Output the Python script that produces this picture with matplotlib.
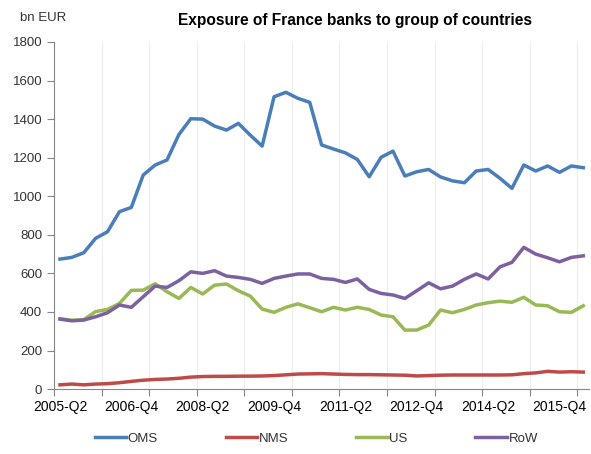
import numpy as np
import matplotlib
matplotlib.use('Agg')
import matplotlib.pyplot as plt

plt.rcParams['font.family'] = ['Liberation Sans', 'DejaVu Sans']

# quarters 2005-Q2 ... 2016-Q2
quarters = []
for y in range(2005, 2017):
    for q in range(1, 5):
        if (y, q) >= (2005, 2) and (y, q) <= (2016, 2):
            quarters.append('%d-Q%d' % (y, q))

oms = [674, 683, 707, 782, 816, 920, 942, 1110, 1162, 1188,
       1320, 1402, 1400, 1364, 1343, 1378, 1317, 1260, 1516, 1539,
       1508, 1487, 1266, 1245, 1225, 1191, 1101, 1202, 1234, 1105,
       1127, 1139, 1100, 1080, 1070, 1131, 1139, 1093, 1041, 1162,
       1131, 1157, 1124, 1157, 1148]
nms = [22, 26, 22, 26, 28, 33, 40, 46, 50, 52,
       56, 62, 65, 66, 66, 67, 67, 68, 70, 74,
       78, 79, 80, 78, 76, 75, 75, 74, 73, 72,
       68, 70, 72, 73, 73, 73, 73, 73, 74, 80,
       84, 92, 88, 90, 88]
us = [365, 357, 360, 402, 413, 444, 512, 513, 546, 505,
      470, 527, 493, 539, 545, 510, 482, 415, 398, 424,
      442, 422, 401, 424, 410, 424, 413, 384, 375, 306,
      306, 332, 410, 396, 413, 436, 448, 456, 450, 476,
      436, 432, 401, 398, 432]
row = [363, 354, 358, 375, 396, 436, 424, 479, 534, 527,
       562, 608, 600, 614, 586, 579, 569, 548, 574, 586,
       597, 597, 574, 569, 553, 571, 517, 496, 488, 470,
       510, 551, 520, 534, 569, 597, 571, 634, 657, 735,
       700, 681, 660, 683, 691]

series = [('OMS', oms, '#4A7EBB'), ('NMS', nms, '#BE4B48'),
          ('US', us, '#98B954'), ('RoW', row, '#7D60A0')]

fig = plt.figure(figsize=(5.91, 4.54), dpi=100)
ax = fig.add_axes([0.0914, 0.143, 0.9056, 0.7645])

x = np.arange(len(quarters))
for name, vals, col in series:
    ax.plot(x, vals, color=col, lw=2.5, label=name)

ax.set_xlim(-0.5, len(quarters) - 0.5)
ax.set_ylim(0, 1800)
ax.set_yticks(range(0, 1801, 200))

# tick marks / gridlines at category boundaries every 4 quarters, labels every 6
bounds = np.arange(-0.5, len(quarters), 4)
ax.set_xticks(bounds)
ax.set_xticklabels([])
ax.set_xticks(x[::6], minor=True)
ax.set_xticklabels(quarters[::6], minor=True)
ax.tick_params(axis='x', which='minor', length=0, pad=8)
ax.tick_params(axis='x', which='major', length=5, color='#868686')
ax.tick_params(axis='y', length=5, color='#868686')
ax.tick_params(labelsize=9.5, labelcolor='#333333')
ax.grid(axis='x', which='major', color='#EDEDED', lw=0.8)

for s in ['top', 'right']:
    ax.spines[s].set_visible(False)
for s in ['left', 'bottom']:
    ax.spines[s].set_color('#868686')

fig.text(0.033, 0.96, 'bn EUR', fontsize=9.5, color='#333333', va='center')
fig.text(0.60, 0.955, 'Exposure of France banks to group of countries',
         ha='center', va='center', fontsize=11.2, fontweight='bold',
         family=['Liberation Sans Narrow', 'Liberation Sans'])

fig.legend(loc='lower left', bbox_to_anchor=(0.14, -0.006, 0.79, 0.06),
           mode='expand', ncol=4, frameon=False,
           fontsize=9.5, handlelength=2.4, handletextpad=0.1,
           labelcolor='#333333')

fig.savefig('out.png', dpi=100)
